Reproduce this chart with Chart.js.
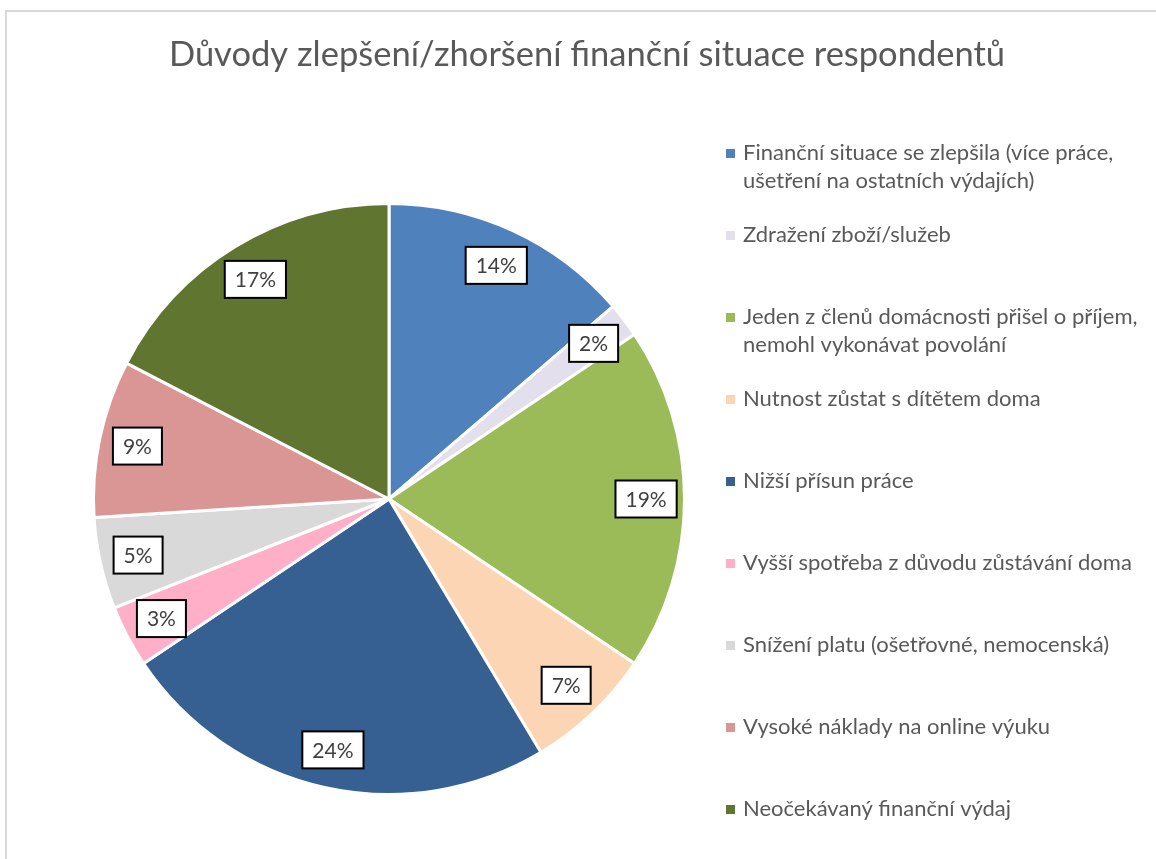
<!DOCTYPE html>
<html>
<head>
<meta charset="utf-8">
<script src="https://cdn.jsdelivr.net/npm/chart.js@4"></script>
<style>
  html, body { margin: 0; padding: 0; background: #fff; }
  canvas { display: block; }
</style>
</head>
<body>
<canvas id="pie" width="1156" height="859"></canvas>
<script>
// data (shares in %)
var chartTitle = 'Důvody zlepšení/zhoršení finanční situace respondentů';
var categories = [
    ['Finanční situace se zlepšila (více práce,', 'ušetření na ostatních výdajích)'],
    'Zdražení zboží/služeb',
    ['Jeden z členů domácnosti přišel o příjem,', 'nemohl vykonávat povolání'],
    'Nutnost zůstat s dítětem doma',
    'Nižší přísun práce',
    'Vyšší spotřeba z důvodu zůstávání doma',
    'Snížení platu (ošetřovné, nemocenská)',
    'Vysoké náklady na online výuku',
    'Neočekávaný finanční výdaj'
];
var shares = [13.7, 1.9, 18.8, 7.0, 24.2, 3.4, 5.0, 8.6, 17.4];
var colors = ['#4f81bd', '#e4dfec', '#9bbb59', '#fcd5b4', '#376092',
              '#ffb0c8', '#d9d9d9', '#d99694', '#5f7530'];

var FONT = 'Lato, "Open Sans", sans-serif';

// frame + title
var framePlugin = {
    id: 'frame',
    beforeDraw: function (chart) {
        var c = chart.ctx;
        c.save();
        c.fillStyle = '#fff';
        c.fillRect(0, 0, chart.width, chart.height);
        c.strokeStyle = '#d9d9d9';
        c.lineWidth = 2;
        c.strokeRect(6, 11, chart.width + 20, chart.height + 20);
        c.fillStyle = '#595959';
        c.font = '34.5px ' + FONT;
        c.textAlign = 'center';
        c.textBaseline = 'middle';
        c.fillText(chartTitle, 587, 55);
        c.restore();
    }
};

// percentage boxes on the slices
var boxLabels = {
    id: 'boxLabels',
    afterDatasetsDraw: function (chart) {
        var c = chart.ctx;
        var meta = chart.getDatasetMeta(0);
        var total = shares.reduce(function (a, b) { return a + b; }, 0);
        c.save();
        c.font = '21px ' + FONT;
        c.textAlign = 'center';
        c.textBaseline = 'middle';
        meta.data.forEach(function (arc, i) {
            var p = arc.getProps(['x', 'y', 'startAngle', 'endAngle', 'outerRadius']);
            var mid = (p.startAngle + p.endAngle) / 2;
            var r = p.outerRadius * 0.87;
            var x = p.x + Math.cos(mid) * r;
            var y = p.y + Math.sin(mid) * r;
            var txt = Math.round(shares[i] / total * 100) + '%';
            var w = c.measureText(txt).width + 20;
            var h = 37;
            c.fillStyle = '#fff';
            c.fillRect(x - w / 2, y - h / 2, w, h);
            c.strokeStyle = '#000';
            c.lineWidth = 2;
            c.strokeRect(x - w / 2, y - h / 2, w, h);
            c.fillStyle = '#404040';
            c.fillText(txt, x, y + 1);
        });
        c.restore();
    }
};

// legend on the right, one slot per category
var sideLegend = {
    id: 'sideLegend',
    afterDraw: function (chart) {
        var c = chart.ctx;
        c.save();
        c.font = '22px ' + FONT;
        c.textAlign = 'left';
        c.textBaseline = 'middle';
        chart.data.labels.forEach(function (lab, i) {
            var y = 153 + 82 * i;
            var lines = Array.isArray(lab) ? lab : [lab];
            c.fillStyle = colors[i];
            c.fillRect(726, y - 4, 9, 9);
            c.fillStyle = '#595959';
            lines.forEach(function (ln, k) {
                c.fillText(ln, 743, y + k * 28);
            });
        });
        c.restore();
    }
};

var ctx = document.getElementById('pie').getContext('2d');
var pieChart = new Chart(ctx, {
    type: 'pie',
    data: {
        labels: categories,
        datasets: [{
            data: shares,
            backgroundColor: colors,
            borderColor: '#ffffff',
            borderWidth: 3
        }]
    },
    options: {
        responsive: false,
        animation: false,
        layout: { padding: { left: 92, right: 470, top: 201, bottom: 62 } },
        plugins: {
            legend: { display: false },
            title: { display: false },
            tooltip: { enabled: false }
        }
    },
    plugins: [framePlugin, boxLabels, sideLegend]
});
</script>
</body>
</html>
